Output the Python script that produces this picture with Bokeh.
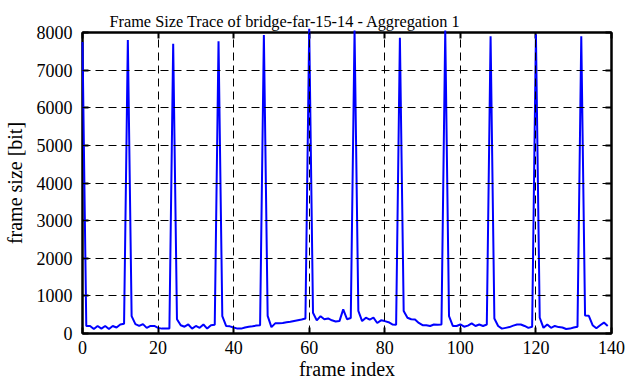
from bokeh.plotting import figure
from bokeh.models import Range1d, LinearAxis, FixedTicker, ColumnDataSource, Title
from bokeh.embed import file_html
from bokeh.resources import INLINE

# ---- data ----
frame_index = list(range(140))
frame_size_bit = [
    7750, 200, 200, 120, 200, 130, 200, 120, 200, 160, 240, 260,          # 0-11
    7800, 460, 250, 200, 250, 150, 200, 200, 150, 130, 130, 130,          # 12-23
    7700, 380, 220, 180, 240, 130, 200, 150, 240, 130, 220, 230,          # 24-35
    7770, 460, 200, 190, 160, 130, 130, 160, 180, 190, 210, 220,          # 36-47
    7930, 470, 170, 270, 270, 280, 300, 310, 330, 350, 370, 400,          # 48-59
    8100, 550, 350, 460, 380, 400, 350, 320, 330, 640, 380, 410,          # 60-71
    8050, 600, 330, 420, 370, 420, 280, 350, 330, 300, 240, 230,          # 72-83
    7860, 600, 420, 380, 370, 280, 220, 220, 200, 240, 230, 240,          # 84-95
    8050, 460, 200, 200, 240, 180, 210, 270, 200, 240, 200, 240,          # 96-107
    7900, 400, 200, 130, 150, 170, 210, 240, 240, 200, 150, 180,          # 108-119
    7950, 420, 150, 240, 150, 200, 170, 160, 120, 130, 160, 180,          # 120-131
    7900, 480, 470, 220, 140, 220, 290, 200,                              # 132-139
]

x_ticks = [0, 20, 40, 60, 80, 100, 120, 140]
y_ticks = [0, 1000, 2000, 3000, 4000, 5000, 6000, 7000, 8000]

title_text = "Frame Size Trace of bridge-far-15-14 - Aggregation 1"
x_label = "frame index"
y_label = "frame size [bit]"

FONT = "Liberation Serif"

src = ColumnDataSource(data=dict(x=frame_index, y=frame_size_bit))

p = figure(width=626, height=382, output_backend="svg", toolbar_location=None,
           title=None,
           x_range=Range1d(0, 140), y_range=Range1d(0, 8000),
           min_border_left=82, min_border_right=15, min_border_top=32,
           min_border_bottom=49)

p.background_fill_color = "white"
p.border_fill_color = "white"
p.outline_line_color = "black"
p.outline_line_width = 2

p.line("x", "y", source=src, line_color="#0000ff", line_width=2, level="annotation")

xt = FixedTicker(ticks=x_ticks)
yt = FixedTicker(ticks=y_ticks)

for ax, t in ((p.xaxis[0], xt), (p.yaxis[0], yt)):
    ax.ticker = t
    ax.axis_line_width = 2
    ax.axis_line_color = "black"
    ax.major_tick_in = 6
    ax.major_tick_out = 0
    ax.major_tick_line_width = 2
    ax.minor_tick_line_color = None
    ax.major_label_text_font = FONT
    ax.major_label_text_font_style = "normal"
    ax.major_label_text_font_size = "18px"
    ax.major_label_text_color = "black"
    ax.axis_label_text_font = FONT
    ax.axis_label_text_font_size = "20px"
    ax.axis_label_text_font_style = "normal"
    ax.axis_label_text_color = "black"
    ax.axis_label_text_line_height = 1.0

p.xaxis[0].axis_label = x_label
p.yaxis[0].axis_label = y_label
p.xaxis[0].major_label_standoff = 7
p.xaxis[0].axis_label_standoff = 1
p.yaxis[0].major_label_standoff = 10
p.yaxis[0].axis_label_standoff = 8

# mirrored ticks on top and right (no labels)
top_ax = LinearAxis(ticker=FixedTicker(ticks=x_ticks),
                    major_label_overrides={t: "" for t in x_ticks},
                    major_label_text_font_size="1px",
                    major_tick_in=6, major_tick_out=0, major_tick_line_width=2,
                    minor_tick_line_color=None, axis_line_width=2,
                    major_label_standoff=0)
right_ax = LinearAxis(ticker=FixedTicker(ticks=y_ticks),
                      major_label_overrides={t: "" for t in y_ticks},
                      major_label_text_font_size="1px",
                      major_tick_in=6, major_tick_out=0, major_tick_line_width=2,
                      minor_tick_line_color=None, axis_line_width=2,
                      major_label_standoff=0)
p.add_layout(top_ax, "above")
p.add_layout(right_ax, "right")

# title, stacked outside the top tick axis
p.add_layout(Title(text=title_text, text_font=FONT, text_font_size="16.3px",
                   text_font_style="normal", text_color="black",
                   text_line_height=1.8, vertical_align="top",
                   align="left", offset=27, standoff=0), "above")

# dashed grid drawn over the trace
for g, t in ((p.xgrid[0], xt), (p.ygrid[0], yt)):
    g.ticker = t
    g.grid_line_color = "black"
    g.grid_line_width = 1
    g.grid_line_dash = "8 5"
    g.level = "overlay"

open("out.html", "w").write(file_html(p, INLINE))
